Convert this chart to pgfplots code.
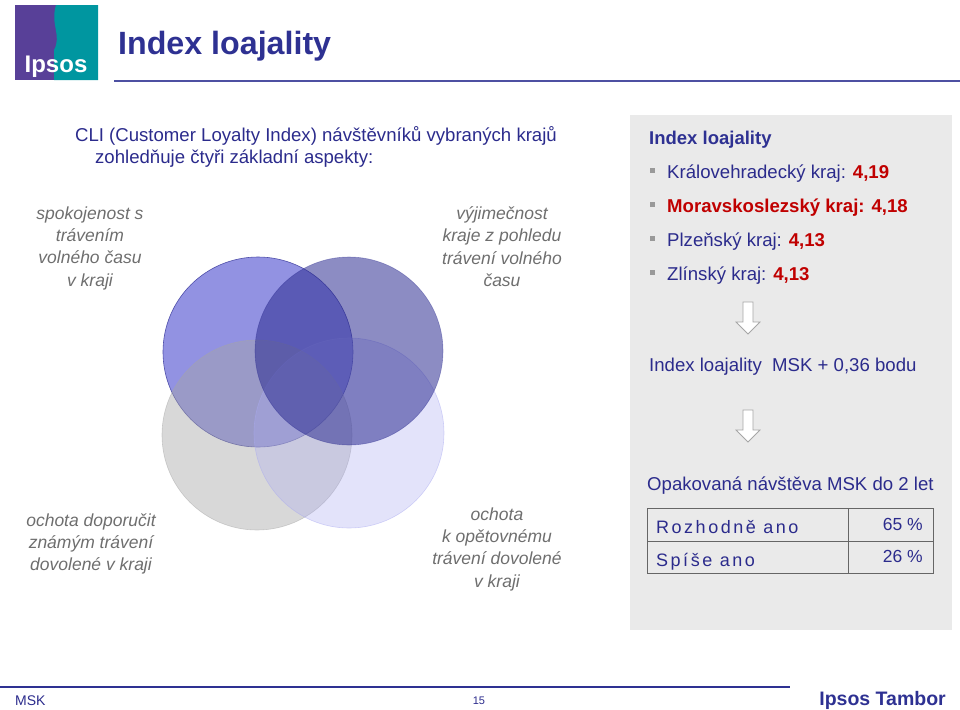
\documentclass[border=0pt]{standalone}
\usepackage{pgfplots}
\pgfplotsset{compat=1.18}
\usepackage{fontspec}
\setmainfont{Liberation Sans}
\newfontfamily\spaced[LetterSpace=14]{Liberation Sans}
\definecolor{navy}{RGB}{43,43,140}
\definecolor{titleblue}{RGB}{46,49,146}
\definecolor{darkred}{RGB}{192,0,0}
\definecolor{graytxt}{RGB}{110,110,110}
\definecolor{panel}{RGB}{234,234,234}
\definecolor{ipurple}{RGB}{88,64,152}
\definecolor{iteal}{RGB}{0,150,160}
\definecolor{circA}{RGB}{146,146,226}
\definecolor{circAedge}{RGB}{80,80,170}
\definecolor{circB}{RGB}{43,43,144}
\definecolor{circC}{RGB}{166,166,166}
\definecolor{circD}{RGB}{170,170,240}
\newcommand\fs[1]{\fontsize{#1bp}{#1bp}\selectfont}
\newcommand\fsl[1]{\fontsize{#1bp}{22.3bp}\selectfont}
\begin{document}
\begin{tikzpicture}
\begin{axis}[scale only axis, width=960bp, height=710bp,
  xmin=0, xmax=960, ymin=0, ymax=710, y dir=reverse,
  hide axis, clip=false, anchor=south west, at={(0,0)}]
% right panel
\fill[panel] (axis cs:630,115) rectangle (axis cs:952,630);
% logo
\fill[ipurple] (axis cs:15,5) rectangle (axis cs:98,80);
\fill[iteal] (axis cs:56,5) .. controls (axis cs:50,25) and (axis cs:62,35) .. (axis cs:54,50) -- (axis cs:54,80) -- (axis cs:98,80) -- (axis cs:98,5) -- cycle;
\node[font=\fs{24}\bfseries, text=white, anchor=base] at (axis cs:56,72) {Ipsos};
% title
\node[font=\fs{32.2}\bfseries, text=titleblue, anchor=base west, inner sep=0pt] at (axis cs:118,54) {Index loajality};
\draw[titleblue!85!white, line width=2bp] (axis cs:114,81) -- (axis cs:960,81);
% intro text
\node[font=\fs{18.6}, text=navy, anchor=base, inner sep=0pt] at (axis cs:316,141) {CLI (Customer Loyalty Index) návštěvníků vybraných krajů};
\node[font=\fs{18.6}, text=navy, anchor=base west, inner sep=0pt] at (axis cs:95,163) {zohledňuje čtyři základní aspekty:};
% Venn circles
\addplot[only marks, mark=*, mark size=95bp, mark options={fill=circA, draw=circAedge, line width=0.6bp}] coordinates {(258,352)};
\addplot[only marks, mark=*, mark size=95bp, mark options={fill=circC, fill opacity=0.44, draw=circC, draw opacity=0.5, line width=0.6bp}] coordinates {(257,435)};
\addplot[only marks, mark=*, mark size=95bp, mark options={fill=circD, fill opacity=0.33, draw=circD, draw opacity=0.5, line width=0.6bp}] coordinates {(349,433)};
\addplot[only marks, mark=*, mark size=94bp, mark options={fill=circB, fill opacity=0.54, draw=circB, draw opacity=0.4, line width=0.6bp}] coordinates {(349,351)};
% aspect labels
\node[font=\fsl{17.5}\itshape, text=graytxt, align=center, anchor=north] at (axis cs:90,203) {spokojenost s\\trávením\\volného času\\v kraji};
\node[font=\fsl{17.5}\itshape, text=graytxt, align=center, anchor=north] at (axis cs:502,203) {výjimečnost\\kraje z pohledu\\trávení volného\\času};
\node[font=\fsl{17.5}\itshape, text=graytxt, align=center, anchor=north] at (axis cs:91,510) {ochota doporučit\\známým trávení\\dovolené v kraji};
\node[font=\fsl{17.5}\itshape, text=graytxt, align=center, anchor=north] at (axis cs:497,504) {ochota\\k opětovnému\\trávení dovolené\\v kraji};
% panel content
\node[font=\fs{18.5}\bfseries, text=titleblue, anchor=base west, inner sep=0pt] at (axis cs:649,144) {Index loajality};
\pgfplotsinvokeforeach{172,206,240,274}{
  \fill[gray!80] (axis cs:650,#1-4) rectangle (axis cs:655,#1+1);
}
\node[font=\fs{18.6}, text=navy, anchor=base west, inner sep=0pt] at (axis cs:667,178) {Královehradecký kraj: \textcolor{darkred}{\bfseries 4,19}};
\node[font=\fs{18.6}\bfseries, text=darkred, anchor=base west, inner sep=0pt] at (axis cs:667,212) {Moravskoslezský kraj: 4,18};
\node[font=\fs{18.6}, text=navy, anchor=base west, inner sep=0pt] at (axis cs:667,246) {Plzeňský kraj: \textcolor{darkred}{\bfseries 4,13}};
\node[font=\fs{18.6}, text=navy, anchor=base west, inner sep=0pt] at (axis cs:667,280) {Zlínský kraj: \textcolor{darkred}{\bfseries 4,13}};
% arrows
\pgfplotsinvokeforeach{302,410}{
  \draw[gray!70, fill=white, line width=0.8bp] (axis cs:743,#1) -- (axis cs:753,#1) -- (axis cs:753,#1+20) -- (axis cs:760,#1+20) -- (axis cs:748,#1+32) -- (axis cs:736,#1+20) -- (axis cs:743,#1+20) -- cycle;
}
\node[font=\fs{18.6}, text=navy, anchor=base west, inner sep=0pt] at (axis cs:649,371) {Index loajality\ \ MSK + 0,36 bodu};
\node[font=\fs{18.6}, text=navy, anchor=base west, inner sep=0pt] at (axis cs:647,490) {Opakovaná návštěva MSK do 2 let};
% table
\draw[gray!80!black, line width=0.8bp] (axis cs:647,508) rectangle (axis cs:933,573);
\draw[gray!80!black, line width=0.8bp] (axis cs:647,541) -- (axis cs:933,541);
\draw[gray!80!black, line width=0.8bp] (axis cs:848,508) -- (axis cs:848,573);
\node[font=\spaced\fs{18}, text=navy, anchor=base west, inner sep=0pt] at (axis cs:656,533) {Rozhodně ano};
\node[font=\fs{17.5}, text=navy, anchor=base east, inner sep=0pt] at (axis cs:923,530) {65 \%};
\node[font=\spaced\fs{18}, text=navy, anchor=base west, inner sep=0pt] at (axis cs:656,566) {Spíše ano};
\node[font=\fs{17.5}, text=navy, anchor=base east, inner sep=0pt] at (axis cs:923,562) {26 \%};
% footer
\draw[titleblue, line width=2bp] (axis cs:0,687) -- (axis cs:790,687);
\node[font=\fs{14}, text=navy, anchor=base west, inner sep=0pt] at (axis cs:15,705) {MSK};
\node[font=\fs{11}, text=navy, anchor=base, inner sep=0pt] at (axis cs:479,704) {15};
\node[font=\fs{19.5}\bfseries, text=titleblue, anchor=base east, inner sep=0pt] at (axis cs:946,705) {Ipsos Tambor};
\end{axis}
\pgfresetboundingbox
\path (0,0) rectangle (960bp,710bp);
\end{tikzpicture}
\end{document}
